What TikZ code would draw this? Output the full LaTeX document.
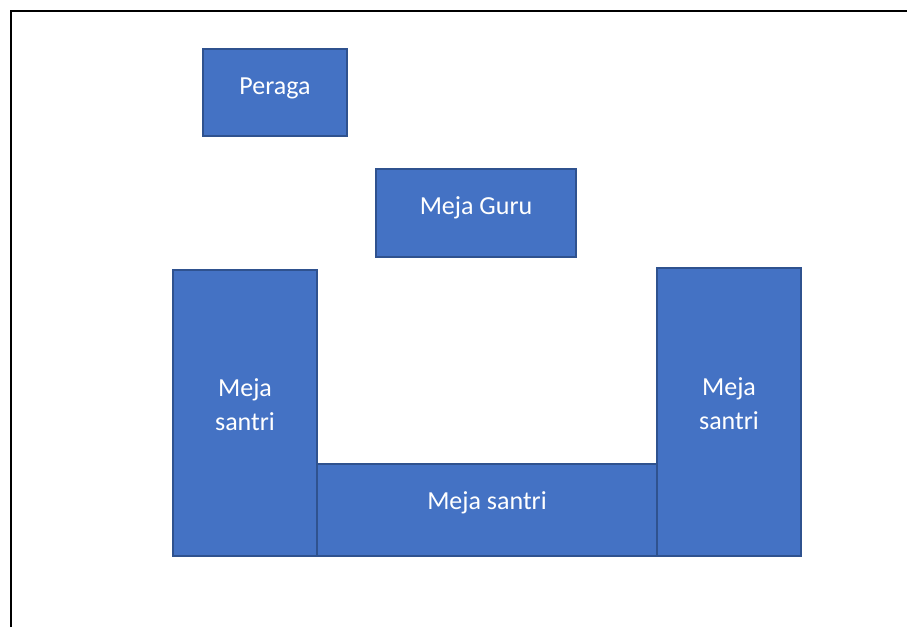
\documentclass[tikz,border=0pt]{standalone}
\usepackage{fontspec}
\setmainfont{Carlito}
\definecolor{boxfill}{HTML}{4472C4}
\definecolor{boxline}{HTML}{2F528F}
\tikzset{
  desk/.style={draw=boxline, fill=boxfill, line width=1.5pt, rectangle, inner sep=0pt},
  lbl/.style={text=white, font=\fontsize{26}{34}\selectfont, align=center, inner sep=0pt, anchor=base},
  frameline/.style={line width=2pt, draw=black}
}
\begin{document}
\begin{tikzpicture}[x=1pt,y=1pt]
\useasboundingbox (0,0) rectangle (907,627);
\draw[frameline] (11,0) -- (11,616) -- (907,616);
% boxes
\node[desk, minimum width=144pt, minimum height=87pt] (peraga) at (275,534.5) {};
\node[desk, minimum width=200pt, minimum height=88pt] (guru) at (476,414) {};
\node[desk, minimum width=340pt, minimum height=92pt] (bawah) at (487,117) {};
\node[desk, minimum width=144pt, minimum height=286pt] (kiri) at (245,214) {};
\node[desk, minimum width=144pt, minimum height=288pt] (kanan) at (729,215) {};
% labels
\node[lbl] (tperaga) at ([yshift=-2pt]peraga.center) {Peraga};
\node[lbl] (tguru) at ([yshift=-2pt]guru.center) {Meja Guru};
\node[lbl] (tbawah) at ([yshift=0.5pt]bawah.center) {Meja santri};
\node[lbl] (tkiri) at ([yshift=-17pt]kiri.center) {Meja\\santri};
\node[lbl] (tkanan) at ([yshift=-17pt]kanan.center) {Meja\\santri};
\end{tikzpicture}
\end{document}
